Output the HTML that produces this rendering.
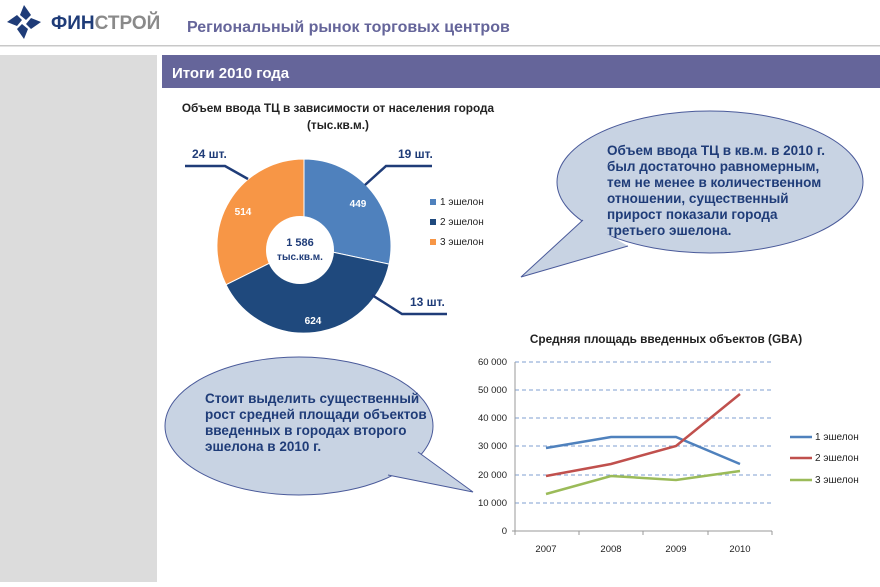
<!DOCTYPE html>
<html><head><meta charset="utf-8"><style>
body{margin:0;width:880px;height:582px;background:#fff;overflow:hidden;font-family:"Liberation Sans",sans-serif}
</style></head><body>
<svg width="880" height="582" viewBox="0 0 880 582" xmlns="http://www.w3.org/2000/svg" font-family="Liberation Sans, sans-serif">
<rect x="0" y="0" width="880" height="582" fill="#fff"/>
<g fill="#1f3c78" transform="translate(24,22)">
<path d="M0,-17 L7,-7 L2,-2 L-4,-7 Z"/>
<path d="M17,0 L7,7 L2,2 L7,-4 Z"/>
<path d="M0,17 L-7,7 L-2,2 L4,7 Z"/>
<path d="M-17,0 L-7,-7 L-2,-2 L-7,4 Z"/>
</g>
<text x="51" y="29" font-size="19" font-weight="bold" fill="#1f3c78">ФИН<tspan fill="#8a8a8a">СТРОЙ</tspan></text>
<text x="187" y="32" font-size="16" font-weight="bold" fill="#65659a">Региональный рынок торговых центров</text>
<rect x="0" y="45" width="880" height="1.5" fill="#c8c8c8"/>
<rect x="0" y="55" width="157" height="527" fill="#dcdcdc"/>
<rect x="162" y="55" width="718" height="33" fill="#65659a"/>
<text x="172" y="78" font-size="15" font-weight="bold" fill="#fff">Итоги 2010 года</text>

<text x="338" y="112" font-size="11.8" font-weight="bold" text-anchor="middle" fill="#222">Объем ввода ТЦ в зависимости от населения города</text>
<text x="338" y="129" font-size="11.8" font-weight="bold" text-anchor="middle" fill="#222">(тыс.кв.м.)</text>
<path d="M304,159 A87,87 0 0 1 389.1,264.1 L304,246 Z" fill="#4f81bd" stroke="#fff" stroke-width="1"/>
<path d="M389.1,264.1 A87,87 0 0 1 226,284.7 L304,246 Z" fill="#1f497d" stroke="#fff" stroke-width="1"/>
<path d="M226,284.7 A87,87 0 0 1 304,159 L304,246 Z" fill="#f79646" stroke="#fff" stroke-width="1"/>
<circle cx="300" cy="250" r="34" fill="#fff"/>
<text x="300" y="246" font-size="11" font-weight="bold" text-anchor="middle" fill="#1f3c78">1 586</text>
<text x="300" y="260" font-size="10" font-weight="bold" text-anchor="middle" fill="#1f3c78">тыс.кв.м.</text>
<text x="358" y="207" font-size="10" font-weight="bold" text-anchor="middle" fill="#fff">449</text>
<text x="313" y="324" font-size="10" font-weight="bold" text-anchor="middle" fill="#fff">624</text>
<text x="243" y="215" font-size="10" font-weight="bold" text-anchor="middle" fill="#fff">514</text>
<polyline points="185,166 225,166 248,179" fill="none" stroke="#1f3c78" stroke-width="2.5"/>
<polyline points="365,185 386,166 432,166" fill="none" stroke="#1f3c78" stroke-width="2.5"/>
<polyline points="372,295 402,314 447,314" fill="none" stroke="#1f3c78" stroke-width="2.5"/>
<text x="192" y="158" font-size="12" font-weight="bold" fill="#1f3c78">24 шт.</text>
<text x="398" y="158" font-size="12" font-weight="bold" fill="#1f3c78">19 шт.</text>
<text x="410" y="306" font-size="12" font-weight="bold" fill="#1f3c78">13 шт.</text>
<rect x="430" y="199" width="6" height="6" fill="#4f81bd"/><text x="440" y="205" font-size="10" fill="#222">1 эшелон</text>
<rect x="430" y="219" width="6" height="6" fill="#1f497d"/><text x="440" y="225" font-size="10" fill="#222">2 эшелон</text>
<rect x="430" y="239" width="6" height="6" fill="#f79646"/><text x="440" y="245" font-size="10" fill="#222">3 эшелон</text>

<!-- right bubble -->
<ellipse cx="710" cy="182" rx="153" ry="71" fill="#c8d3e3" stroke="#4a5a9a" stroke-width="1"/>
<polygon points="583,220 521,277 628,246" fill="#c8d3e3"/>
<polyline points="583,220 521,277 628,246" fill="none" stroke="#4a5a9a" stroke-width="1"/>
<g font-size="13.5" font-weight="bold" fill="#1f3c78">
<text x="607" y="155">Объем ввода ТЦ в кв.м. в 2010 г.</text>
<text x="607" y="171">был достаточно равномерным,</text>
<text x="607" y="187">тем не менее в количественном</text>
<text x="607" y="203">отношении, существенный</text>
<text x="607" y="219">прирост показали города</text>
<text x="607" y="235">третьего эшелона.</text>
</g>
<!-- left bubble -->
<ellipse cx="299" cy="426" rx="134" ry="69" fill="#c8d3e3" stroke="#4a5a9a" stroke-width="1"/>
<polygon points="418,452 473,492 388,475" fill="#c8d3e3"/>
<polyline points="418,452 473,492 388,475" fill="none" stroke="#4a5a9a" stroke-width="1"/>
<g font-size="13.5" font-weight="bold" fill="#1f3c78">
<text x="205" y="403">Стоит выделить существенный</text>
<text x="205" y="419">рост средней площади объектов</text>
<text x="205" y="435">введенных в городах второго</text>
<text x="205" y="451">эшелона в 2010 г.</text>
</g>

<text x="666" y="343" font-size="11.8" font-weight="bold" text-anchor="middle" fill="#222">Средняя площадь введенных объектов (GBA)</text>
<g stroke="#7f9fd0" stroke-width="1" stroke-dasharray="4,3">
<line x1="515" y1="362" x2="772" y2="362"/>
<line x1="515" y1="390" x2="772" y2="390"/>
<line x1="515" y1="418" x2="772" y2="418"/>
<line x1="515" y1="446" x2="772" y2="446"/>
<line x1="515" y1="475" x2="772" y2="475"/>
<line x1="515" y1="503" x2="772" y2="503"/>
</g>
<line x1="515" y1="362" x2="515" y2="531" stroke="#999"/>
<line x1="512" y1="531" x2="772" y2="531" stroke="#999"/>
<g stroke="#999"><line x1="579" y1="531" x2="579" y2="535"/><line x1="643" y1="531" x2="643" y2="535"/><line x1="708" y1="531" x2="708" y2="535"/><line x1="772" y1="531" x2="772" y2="535"/><line x1="515" y1="531" x2="515" y2="535"/></g>
<g font-size="9.5" text-anchor="end" fill="#222">
<text x="507" y="365">60 000</text><text x="507" y="393">50 000</text><text x="507" y="421">40 000</text>
<text x="507" y="449">30 000</text><text x="507" y="478">20 000</text><text x="507" y="506">10 000</text><text x="507" y="534">0</text>
</g>
<g font-size="9.5" text-anchor="middle" fill="#222">
<text x="546" y="552">2007</text><text x="611" y="552">2008</text><text x="676" y="552">2009</text><text x="740" y="552">2010</text>
</g>
<g fill="none" stroke-width="2.5">
<polyline points="546,448 611,437 676,437 740,464" stroke="#4f81bd"/>
<polyline points="546,476 611,464 676,446 740,394" stroke="#c0504d"/>
<polyline points="546,494 611,476 676,480 740,471" stroke="#9bbb59"/>
</g>
<line x1="790" y1="437" x2="812" y2="437" stroke="#4f81bd" stroke-width="2.5"/><text x="815" y="440" font-size="10" fill="#222">1 эшелон</text>
<line x1="790" y1="458" x2="812" y2="458" stroke="#c0504d" stroke-width="2.5"/><text x="815" y="461" font-size="10" fill="#222">2 эшелон</text>
<line x1="790" y1="480" x2="812" y2="480" stroke="#9bbb59" stroke-width="2.5"/><text x="815" y="483" font-size="10" fill="#222">3 эшелон</text>
</svg>
</body></html>
